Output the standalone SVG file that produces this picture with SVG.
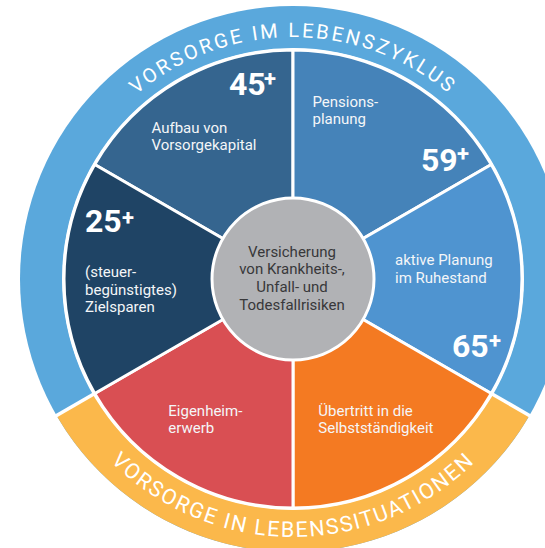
<svg xmlns="http://www.w3.org/2000/svg" width="545" height="548" viewBox="0 0 545 548">
  <style>
    .lbl { font-family: Roboto, "Liberation Sans", sans-serif; font-size: 15px; fill: #f4f6f8; }
    .ctr { font-family: Roboto, "Liberation Sans", sans-serif; font-size: 15px; fill: #38383a; text-anchor: middle; }
    .num { font-family: Roboto, "Liberation Sans", sans-serif; font-size: 32px; font-weight: 700; fill: #ffffff; }
    .plus { font-family: Roboto, "Liberation Sans", sans-serif; font-size: 22px; font-weight: 700; fill: #ffffff; }
    .ring { font-family: Roboto, "Liberation Sans", sans-serif; fill: #ffffff; text-anchor: middle; }
    .sector { stroke: #ffffff; stroke-width: 3; stroke-linejoin: round; }
    .div { stroke: #ffffff; stroke-width: 3.5; }
  </style>
  <defs>
    <path id="topArc" d="M 51 279 A 242 242 0 0 1 535 279"/>
    <path id="botArc" d="M 35 279 A 258 258 0 0 0 551 279"/>
  </defs>

  <g id="ring">
    <circle cx="293" cy="279" r="273" fill="#5aa8dc"/>
    <path d="M 293 279 L 529.4 415.5 A 273 273 0 0 1 56.6 415.5 Z" fill="#fbb84b"/>
    <circle cx="293" cy="279" r="231" fill="#ffffff"/>
    <text class="ring" font-size="20" letter-spacing="2.6"><textPath href="#topArc" startOffset="50%">VORSORGE IM LEBENSZYKLUS</textPath></text>
    <text class="ring" font-size="21.5" letter-spacing="1.8"><textPath href="#botArc" startOffset="50%">VORSORGE IN LEBENSSITUATIONEN</textPath></text>
  </g>

  <g id="aufbau">
    <path class="sector" d="M 293 279 L 94.7 164.5 A 229 229 0 0 1 293 50 Z" fill="#35658f"/>
    <text class="num" x="229" y="95">45</text>
    <text class="plus" x="264" y="86">+</text>
    <text class="lbl" x="151.5" y="132.7">Aufbau von</text>
    <text class="lbl" x="151.5" y="150">Vorsorgekapital</text>
  </g>

  <g id="pensions">
    <path class="sector" d="M 293 279 L 293 50 A 229 229 0 0 1 491.3 164.5 Z" fill="#4583b9"/>
    <text class="lbl" x="312.5" y="106.7">Pensions-</text>
    <text class="lbl" x="312.5" y="123.5">planung</text>
    <text class="num" x="421" y="170.7">59</text>
    <text class="plus" x="457" y="161">+</text>
  </g>

  <g id="aktiv">
    <path class="sector" d="M 293 279 L 491.3 164.5 A 229 229 0 0 1 491.3 393.5 Z" fill="#4f94d0"/>
    <text class="lbl" x="395" y="265">aktive Planung</text>
    <text class="lbl" x="395" y="282.7">im Ruhestand</text>
    <text class="num" x="452" y="356.7">65</text>
    <text class="plus" x="489" y="348">+</text>
  </g>

  <g id="selbst">
    <path class="sector" d="M 293 279 L 491.3 393.5 A 229 229 0 0 1 293 508 Z" fill="#f47a22"/>
    <text class="lbl" x="318.3" y="416">Übertritt in die</text>
    <text class="lbl" x="318.3" y="433">Selbstständigkeit</text>
  </g>

  <g id="eigenheim">
    <path class="sector" d="M 293 279 L 293 508 A 229 229 0 0 1 94.7 393.5 Z" fill="#d94f53"/>
    <text class="lbl" x="168.3" y="416">Eigenheim-</text>
    <text class="lbl" x="168.3" y="433">erwerb</text>
  </g>

  <g id="zielsparen">
    <path class="sector" d="M 293 279 L 94.7 393.5 A 229 229 0 0 1 94.7 164.5 Z" fill="#1f4465"/>
    <text class="num" x="85" y="231.7">25</text>
    <text class="plus" x="122" y="224.5">+</text>
    <text class="lbl" x="85" y="276.7">(steuer-</text>
    <text class="lbl" x="85" y="294.5">begünstigtes)</text>
    <text class="lbl" x="85" y="312.3">Zielsparen</text>
  </g>

  <g id="connectors">
    <line class="div" x1="491.3" y1="393.5" x2="532" y2="417"/>
    <line class="div" x1="94.7" y1="393.5" x2="54" y2="417"/>
  </g>

  <g id="center">
    <circle cx="293" cy="279" r="81" fill="#b1b2b5" stroke="#ffffff" stroke-width="3"/>
    <text class="ctr" x="292" y="256.5">Versicherung</text>
    <text class="ctr" x="292" y="274.2">von Krankheits-,</text>
    <text class="ctr" x="292" y="292">Unfall- und</text>
    <text class="ctr" x="292" y="309.7">Todesfallrisiken</text>
  </g>
</svg>
